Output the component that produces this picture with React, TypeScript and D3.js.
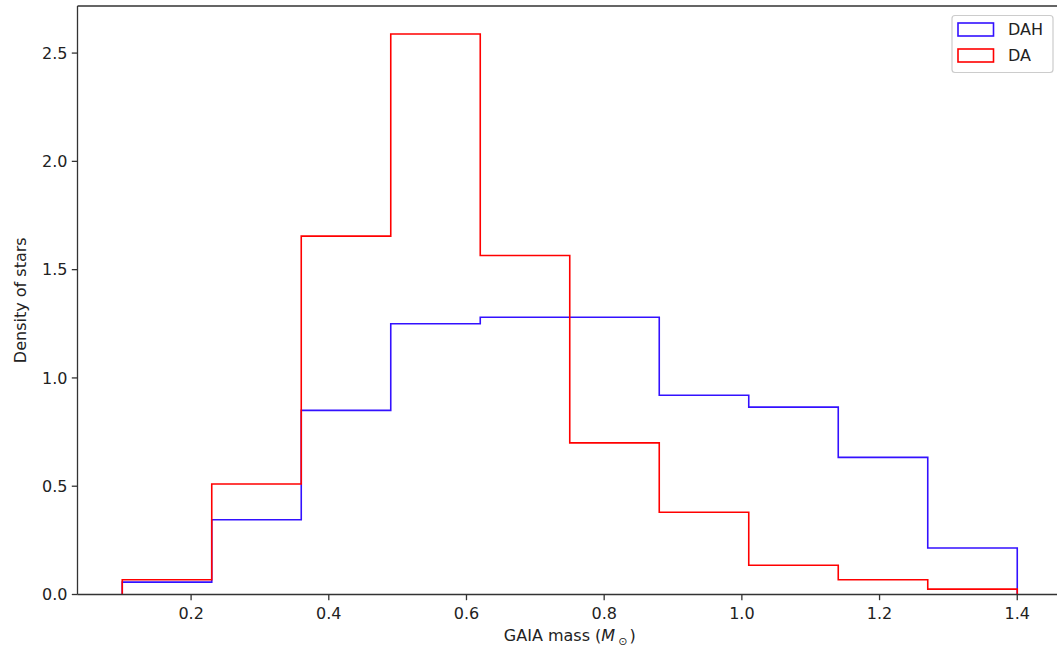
import React from "react";
import * as d3 from "d3";

const binEdges = [0.1, 0.23, 0.36, 0.49, 0.62, 0.75, 0.88, 1.01, 1.14, 1.27, 1.4];
const dahValues = [0.057, 0.345, 0.85, 1.25, 1.28, 1.28, 0.92, 0.865, 0.633, 0.215];
const daValues = [0.068, 0.51, 1.655, 2.588, 1.565, 0.70, 0.38, 0.135, 0.068, 0.025];
const xTicks = [0.2, 0.4, 0.6, 0.8, 1.0, 1.2, 1.4];
const yTicks = [0.0, 0.5, 1.0, 1.5, 2.0, 2.5];
const seriesNames = ["DAH", "DA"];
const seriesColors = ["#3311ff", "#ff0000"];

const W = 1057, H = 650;
const L = 77.5, R = 1062, T = 6, B = 594.5;

export default function App() {
  const x = d3.scaleLinear().domain([0.035, 1.465]).range([L, R]);
  const y = d3.scaleLinear().domain([0, 2.7174]).range([B, T]);
  const font = "DejaVu Sans, sans-serif";

  const stepPath = (vals: number[]) => {
    const pts: [number, number][] = [[binEdges[0], 0]];
    vals.forEach((v, i) => {
      pts.push([binEdges[i], v]);
      pts.push([binEdges[i + 1], v]);
    });
    pts.push([binEdges[binEdges.length - 1], 0]);
    return d3.line<[number, number]>().x(d => x(d[0])).y(d => y(d[1]))(pts) as string;
  };

  const series = [dahValues, daValues];

  return (
    <svg width={W} height={H} style={{ position: "absolute", left: 0, top: 0, background: "#fff" }}>
      <rect x={0} y={0} width={W} height={H} fill="#fff" />
      {series.map((vals, i) => (
        <path key={i} d={stepPath(vals)} fill="none" stroke={seriesColors[i]} strokeWidth={1.6} strokeLinejoin="miter" />
      ))}
      {/* spines */}
      <path d={`M${L},${B}H${R}M${L},${B}V${T}M${L},${T}H${R}V${B}`} fill="none" stroke="#333" strokeWidth={1.3} />
      {xTicks.map(t => (
        <g key={t} transform={`translate(${x(t)},${B})`}>
          <line y1={0} y2={5.7} stroke="#333" strokeWidth={1.3} />
          <text y={24} textAnchor="middle" fontFamily={font} fontSize={16} fill="#222">{t.toFixed(1)}</text>
        </g>
      ))}
      {yTicks.map(t => (
        <g key={t} transform={`translate(${L},${y(t)})`}>
          <line x1={0} x2={-5.7} stroke="#333" strokeWidth={1.3} />
          <text x={-10} dy="0.36em" textAnchor="end" fontFamily={font} fontSize={16} fill="#222">{t.toFixed(1)}</text>
        </g>
      ))}
      <text x={(L + R) / 2} y={641} textAnchor="middle" fontFamily={font} fontSize={16} fill="#222">
        GAIA mass (<tspan fontStyle="italic">M</tspan><tspan fontSize={11} dx={3} dy={4}>⊙</tspan><tspan dx={2} dy={-4}>)</tspan>
      </text>
      <text transform={`translate(26,${(T + B) / 2}) rotate(-90)`} textAnchor="middle" fontFamily={font} fontSize={16} fill="#222">Density of stars</text>
      {/* legend */}
      <rect x={952} y={15.5} width={101} height={57} rx={3} fill="#fff" fillOpacity={0.8} stroke="#ccc" strokeWidth={1.2} />
      {seriesNames.map((n, i) => (
        <g key={n} transform={`translate(958,${23 + i * 26})`}>
          <rect x={0} y={0} width={35.5} height={13} fill="none" stroke={seriesColors[i]} strokeWidth={1.6} />
          <text x={50} y={12} fontFamily={font} fontSize={16} fill="#222">{n}</text>
        </g>
      ))}
    </svg>
  );
}
